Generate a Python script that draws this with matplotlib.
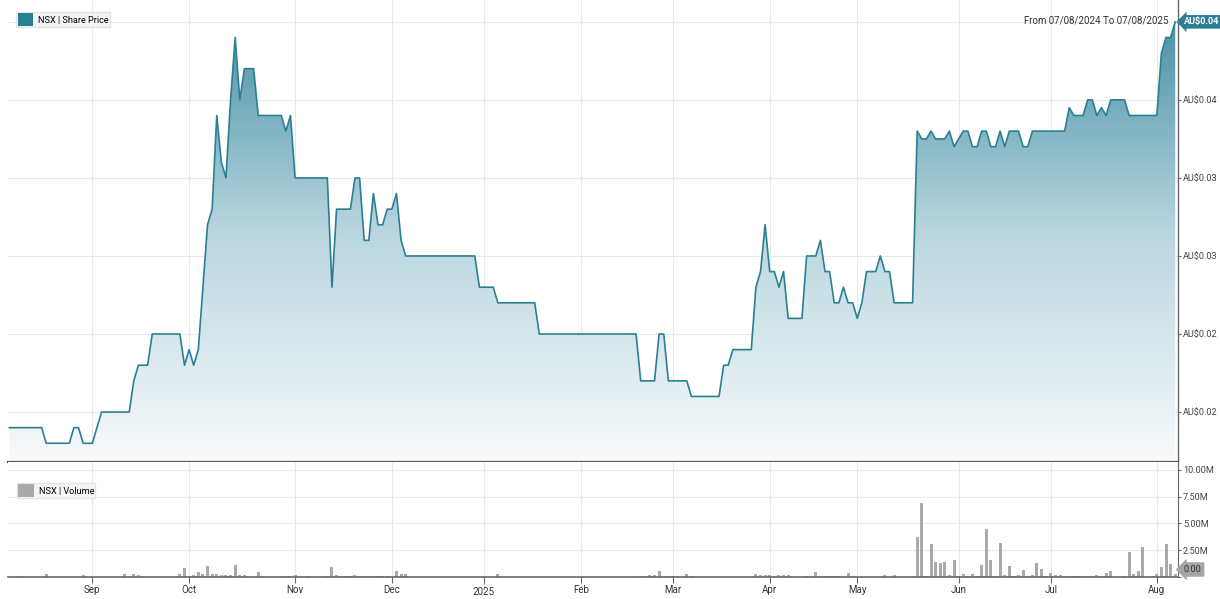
import numpy as np
import pandas as pd
import matplotlib
matplotlib.use('Agg')
import matplotlib.pyplot as plt
import matplotlib.transforms as mtransforms
from matplotlib.colors import LinearSegmentedColormap
from matplotlib.patches import Patch

plt.rcParams['font.family'] = ['Roboto', 'DejaVu Sans']

# ASX trading days, 07/08/2024 - 07/08/2025
asx_holidays = ['2024-12-25', '2024-12-26', '2025-01-01', '2025-01-27',
                '2025-04-18', '2025-04-21', '2025-04-25', '2025-06-09']
dates = pd.bdate_range('2024-08-07', '2025-08-07', freq='C', holidays=asx_holidays)

# closing price (AU$), one per trading day
price = [
    0.014, 0.014, 0.014, 0.014, 0.014, 0.014, 0.014, 0.014, 0.013, 0.013,
    0.013, 0.013, 0.013, 0.013, 0.014, 0.014, 0.013, 0.013, 0.013, 0.014,
    0.015, 0.015, 0.015, 0.015, 0.015, 0.015, 0.015, 0.017, 0.018, 0.018,
    0.018, 0.020, 0.020, 0.020, 0.020, 0.020, 0.020, 0.020, 0.018, 0.019,
    0.018, 0.019, 0.023, 0.027, 0.028, 0.034, 0.031, 0.030, 0.035, 0.039,
    0.035, 0.037, 0.037, 0.037, 0.034, 0.034, 0.034, 0.034, 0.034, 0.034,
    0.033, 0.034, 0.030, 0.030, 0.030, 0.030, 0.030, 0.030, 0.030, 0.030,
    0.023, 0.028, 0.028, 0.028, 0.028, 0.030, 0.030, 0.026, 0.026, 0.029,
    0.027, 0.027, 0.028, 0.028, 0.029, 0.026, 0.025, 0.025, 0.025, 0.025,
    0.025, 0.025, 0.025, 0.025, 0.025, 0.025, 0.025, 0.025, 0.025, 0.025,
    0.025, 0.025, 0.023, 0.023, 0.023, 0.023, 0.022, 0.022, 0.022, 0.022,
    0.022, 0.022, 0.022, 0.022, 0.022, 0.020, 0.020, 0.020, 0.020, 0.020,
    0.020, 0.020, 0.020, 0.020, 0.020, 0.020, 0.020, 0.020, 0.020, 0.020,
    0.020, 0.020, 0.020, 0.020, 0.020, 0.020, 0.020, 0.017, 0.017, 0.017,
    0.017, 0.020, 0.020, 0.017, 0.017, 0.017, 0.017, 0.017, 0.016, 0.016,
    0.016, 0.016, 0.016, 0.016, 0.016, 0.018, 0.018, 0.019, 0.019, 0.019,
    0.019, 0.019, 0.023, 0.024, 0.027, 0.024, 0.024, 0.023, 0.024, 0.021,
    0.021, 0.021, 0.021, 0.025, 0.025, 0.025, 0.026, 0.024, 0.024, 0.022,
    0.022, 0.023, 0.022, 0.022, 0.021, 0.022, 0.024, 0.024, 0.024, 0.025,
    0.024, 0.024, 0.022, 0.022, 0.022, 0.022, 0.022, 0.033, 0.0325, 0.0325,
    0.033, 0.0325, 0.0325, 0.0325, 0.033, 0.032, 0.0325, 0.033, 0.033, 0.032,
    0.032, 0.033, 0.033, 0.032, 0.032, 0.033, 0.032, 0.033, 0.033, 0.033,
    0.032, 0.032, 0.033, 0.033, 0.033, 0.033, 0.033, 0.033, 0.033, 0.033,
    0.0345, 0.034, 0.034, 0.034, 0.035, 0.035, 0.034, 0.0345, 0.034, 0.035,
    0.035, 0.035, 0.035, 0.034, 0.034, 0.034, 0.034, 0.034, 0.034, 0.034,
    0.038, 0.039, 0.039, 0.040,
]

# volume in millions of shares
volume_m = [
    0, 0, 0.05, 0, 0, 0, 0, 0, 0.25, 0,
    0, 0, 0, 0.03, 0.03, 0, 0.15, 0, 0, 0.03,
    0.03, 0, 0, 0, 0, 0.3, 0, 0.3, 0.2, 0,
    0, 0.03, 0, 0, 0, 0, 0, 0.25, 0.8, 0.05,
    0.2, 0.45, 0.3, 1.0, 0.25, 0.3, 0.2, 0.15, 0.15, 1.15,
    0.15, 0.15, 0, 0, 0.45, 0, 0, 0, 0, 0,
    0.05, 0.05, 0.2, 0, 0, 0.05, 0, 0, 0, 0.05,
    0.9, 0.15, 0.1, 0.05, 0.05, 0.2, 0.1, 0.05, 0.05, 0.05,
    0.05, 0.05, 0.05, 0, 0.55, 0.25, 0.25, 0, 0, 0,
    0, 0, 0.03, 0, 0, 0, 0, 0, 0, 0,
    0, 0, 0.03, 0.03, 0, 0, 0.25, 0, 0.03, 0,
    0, 0, 0, 0, 0, 0.03, 0, 0, 0, 0,
    0, 0.03, 0, 0, 0, 0, 0, 0, 0.03, 0.03,
    0, 0, 0, 0, 0, 0.03, 0, 0.1, 0.1, 0.15,
    0.2, 0.55, 0, 0.05, 0.05, 0, 0, 0.3, 0.1, 0,
    0, 0, 0, 0, 0, 0.03, 0, 0.03, 0, 0,
    0, 0, 0.3, 0.2, 0.15, 0.15, 0, 0.2, 0.15, 0.15,
    0, 0, 0, 0.05, 0, 0.45, 0.05, 0.05, 0.05, 0.05,
    0.05, 0, 0.4, 0.05, 0, 0.03, 0.03, 0.03, 0.03, 0,
    0.2, 0, 0.15, 0, 0, 0, 0, 3.75, 6.9, 0.05,
    3.1, 1.4, 1.35, 1.4, 0.15, 1.55, 0.05, 0.3, 0.05, 0.3,
    0.05, 1.15, 4.5, 1.55, 0.05, 3.2, 0.15, 1.05, 0.05, 0.15,
    0.7, 0.05, 0.15, 1.35, 0.75, 0.05, 0.4, 0.15, 0.15, 0.05,
    0.05, 0.05, 0.05, 0.05, 0.05, 0.05, 0.2, 0.1, 0.35, 0.6,
    0, 0, 0.05, 2.35, 0.3, 0.55, 2.8, 0, 0.05, 0.25,
    0.95, 3.1, 1.2, 0.25,
]

month_labels = ['Sep', 'Oct', 'Nov', 'Dec', '2025', 'Feb', 'Mar', 'Apr',
                'May', 'Jun', 'Jul', 'Aug']
year_label = '2025'
price_ticks = [0.015, 0.02, 0.025, 0.03, 0.035, 0.04]
price_tick_labels = [r'AU\$0.02', r'AU\$0.02', r'AU\$0.03', r'AU\$0.03', r'AU\$0.04', '']
volume_ticks = [0, 2.5e6, 5e6, 7.5e6, 10e6]
volume_tick_labels = ['', '2.50M', '5.00M', '7.50M', '10.00M']
last_price_label = r'AU\$0.04'
range_text = 'From 07/08/2024 To 07/08/2025'

teal = '#2b7f95'
grid_c = '#e8e8e8'
text_c = '#444444'
fs = 6.6

n = min(len(dates), len(price), len(volume_m))
x = np.arange(n)
price = np.array(price[:n])
volume = np.array(volume_m[:n]) * 1e6
month_pos = [i for i in range(1, n) if dates[i].month != dates[i - 1].month]

W, H = 1220, 599
fig = plt.figure(figsize=(W / 100, H / 100), dpi=100)
ax = fig.add_axes([8 / W, 1 - 462 / H, 1170 / W, 462 / H])
axv = fig.add_axes([8 / W, 1 - 577 / H, 1170 / W, 115 / H], sharex=ax)

x0, x1 = -0.3, n - 0.4
y0, y1 = 0.0118, 0.0414

# gradient area under the price line
cmap = LinearSegmentedColormap.from_list('fill', ['#f8fafb', '#b9d6df', '#3f8ba1'])
grad = np.linspace(0, 1, 256).reshape(-1, 1)
im = ax.imshow(grad, extent=[x0, x1, y0, y1], origin='lower', aspect='auto',
               cmap=cmap, zorder=1)
poly = ax.fill_between(x, price, y0, color='none', lw=0)
im.set_clip_path(poly.get_paths()[0], transform=ax.transData)
ax.plot(x, price, color=teal, lw=1.2, zorder=3)

ax.set_xlim(x0, x1)
ax.set_ylim(y0, y1)
ax.set_yticks(price_ticks)
ax.set_yticklabels(price_tick_labels)
ax.set_xticks(month_pos)
ax.grid(color=grid_c, lw=0.8, zorder=0)
ax.set_axisbelow(True)
ax.yaxis.tick_right()
ax.tick_params(axis='y', length=2.5, color='#666', labelsize=fs, labelcolor=text_c, pad=1)
ax.tick_params(axis='x', length=0, labelbottom=False)
for s in ['left', 'top']:
    ax.spines[s].set_visible(False)
ax.spines['right'].set_color('#666')
ax.spines['right'].set_linewidth(1)
ax.spines['bottom'].set_color('#555')
ax.spines['bottom'].set_linewidth(1.6)

# volume bars
axv.bar(x, volume, width=0.65, color='#aaaaaa', zorder=2)
axv.set_ylim(0, 10.74e6)
axv.set_yticks(volume_ticks)
axv.set_yticklabels(volume_tick_labels)
axv.set_xticks(month_pos)
# the year label sits lower than the month names, drawn separately below
axv.set_xticklabels(['' if m == year_label else m for m in month_labels])
axv.grid(color=grid_c, lw=0.8, zorder=0)
axv.set_axisbelow(True)
axv.yaxis.tick_right()
axv.tick_params(axis='y', length=2.5, color='#666', labelsize=fs, labelcolor=text_c, pad=1)
axv.tick_params(axis='x', length=4, color='#666', labelsize=fs + 0.4, labelcolor='#333', pad=2)
for s in ['left', 'top']:
    axv.spines[s].set_visible(False)
axv.spines['right'].set_color('#666')
axv.spines['bottom'].set_color('#666')
axv.spines['bottom'].set_linewidth(1.2)

# dotted year marker
jan = month_pos[month_labels.index(year_label)]
blend_v = mtransforms.blended_transform_factory(axv.transData, axv.transAxes)
axv.plot([jan, jan], [0, -0.1], transform=blend_v, ls=':', color='#666', lw=0.8, clip_on=False)
axv.text(jan, -0.178, year_label, transform=blend_v, ha='center', va='bottom',
         fontsize=fs + 0.4, color='#333', clip_on=False)

# legends
leg_kw = dict(loc='upper left', fontsize=fs, frameon=True, fancybox=False, framealpha=1,
              facecolor='#f5f5f5', edgecolor='#e4e4e4', handlelength=1.7, handleheight=1.7,
              borderpad=0.15, handletextpad=0.5, borderaxespad=0)
ax.legend(handles=[Patch(facecolor=teal, edgecolor='none', label='NSX | Share Price')],
          bbox_to_anchor=(0.007, 0.974), **leg_kw)
axv.legend(handles=[Patch(facecolor='#aaaaaa', edgecolor='none', label='NSX | Volume')],
           bbox_to_anchor=(0.0077, 0.817), **leg_kw)

# last value markers
ax.text(1.005, price[-1], last_price_label,
        transform=mtransforms.blended_transform_factory(ax.transAxes, ax.transData),
        ha='left', va='center', color='white', fontsize=fs, fontweight='bold',
        bbox=dict(boxstyle='larrow,pad=0.25', fc=teal, ec='none'), clip_on=False, zorder=6)
axv.text(1.005, 0.7e6, '0.00',
         transform=mtransforms.blended_transform_factory(axv.transAxes, axv.transData),
         ha='left', va='center', color='#333', fontsize=fs,
         bbox=dict(boxstyle='larrow,pad=0.3', fc='#a5a5a5', ec='none'), clip_on=False, zorder=6)

fig.text(1168 / W, 1 - 20 / H, range_text, ha='right', va='center', fontsize=fs + 0.4, color='#333')

fig.savefig('out.png', dpi=100)
